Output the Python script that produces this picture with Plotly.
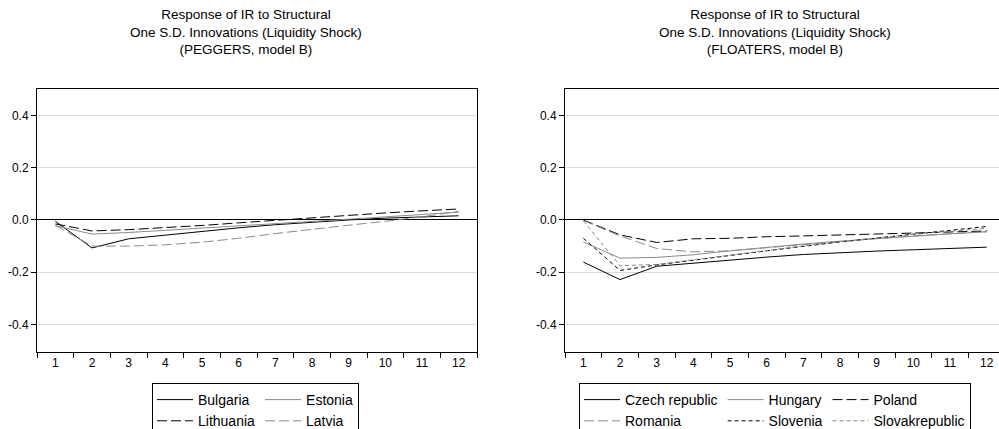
import plotly.graph_objects as go

periods = [str(i) for i in range(1, 13)]

# PEGGERS, model B
bulgaria = [-0.005, -0.107, -0.072, -0.058, -0.043, -0.030, -0.018, -0.008, 0.000, 0.007, 0.012, 0.016]
estonia = [-0.022, -0.054, -0.048, -0.040, -0.031, -0.022, -0.013, -0.005, 0.003, 0.012, 0.021, 0.030]
lithuania = [-0.015, -0.042, -0.037, -0.030, -0.021, -0.011, -0.001, 0.009, 0.018, 0.027, 0.035, 0.042]
latvia = [-0.020, -0.100, -0.100, -0.095, -0.085, -0.070, -0.052, -0.035, -0.020, -0.005, 0.012, 0.033]

# FLOATERS, model B
czech = [-0.161, -0.228, -0.177, -0.165, -0.153, -0.142, -0.132, -0.125, -0.119, -0.114, -0.109, -0.104]
hungary = [-0.084, -0.146, -0.143, -0.133, -0.118, -0.104, -0.092, -0.081, -0.071, -0.062, -0.053, -0.045]
poland = [0.000, -0.057, -0.086, -0.072, -0.070, -0.064, -0.061, -0.058, -0.054, -0.050, -0.046, -0.042]
romania = [-0.002, -0.061, -0.109, -0.122, -0.118, -0.106, -0.094, -0.082, -0.071, -0.061, -0.052, -0.045]
slovenia = [-0.070, -0.193, -0.172, -0.155, -0.136, -0.118, -0.100, -0.084, -0.069, -0.055, -0.040, -0.025]
slovak = [-0.003, -0.175, -0.170, -0.152, -0.134, -0.116, -0.099, -0.083, -0.068, -0.055, -0.043, -0.032]

ytick_vals = [-0.4, -0.2, 0.0, 0.2, 0.4]
ytick_text = ["-0.4", "-0.2", "0.0", "0.2", "0.4"]

BLACK = "#000000"
GRAY = "#8a8a8a"
LONG = "10px,4px"
SHORT = "4px,3px"

W, H = 999, 429

fig = go.Figure()

left_series = [
    ("Bulgaria", bulgaria, BLACK, "solid", "c1"),
    ("Estonia", estonia, GRAY, "solid", "c2"),
    ("Lithuania", lithuania, BLACK, LONG, "c1"),
    ("Latvia", latvia, GRAY, LONG, "c2"),
]
right_series = [
    ("Czech republic", czech, BLACK, "solid", "d1"),
    ("Hungary", hungary, GRAY, "solid", "d2"),
    ("Poland", poland, BLACK, LONG, "d3"),
    ("Romania", romania, GRAY, LONG, "d1"),
    ("Slovenia", slovenia, BLACK, SHORT, "d2"),
    ("Slovakrepublic", slovak, GRAY, SHORT, "d3"),
]

for name, vals, col, dash, grp in left_series:
    fig.add_trace(go.Scatter(x=periods, y=vals, mode="lines", name=name,
                             line=dict(color=col, width=1, dash=dash),
                             legendgroup=grp, legend="legend",
                             xaxis="x", yaxis="y"))
for name, vals, col, dash, grp in right_series:
    fig.add_trace(go.Scatter(x=periods, y=vals, mode="lines", name=name,
                             line=dict(color=col, width=1, dash=dash),
                             legendgroup=grp, legend="legend2",
                             xaxis="x2", yaxis="y2"))

font = "Liberation Sans, Arial, sans-serif"

def xax(domain, rng, anchor):
    return dict(domain=domain, type="category", range=rng, anchor=anchor,
                tickson="boundaries", ticks="outside", ticklen=5, tickwidth=1,
                tickcolor="#000", showline=True, linecolor="#000", linewidth=1,
                mirror=True, showgrid=False, zeroline=False,
                tickfont=dict(size=12, color="#000", family=font))

def yax(domain, anchor, mirror):
    return dict(domain=domain, range=[-0.505, 0.501], anchor=anchor,
                tickvals=ytick_vals, ticktext=ytick_text,
                ticks="outside", ticklen=5, tickwidth=1, tickcolor="#000",
                showline=True, linecolor="#000", linewidth=1, mirror=mirror,
                showgrid=True, gridcolor="#dcdcdc", gridwidth=1,
                zeroline=True, zerolinecolor="#000", zerolinewidth=1,
                tickfont=dict(size=12, color="#000", family=font))

legend_style = dict(orientation="h", traceorder="grouped", xanchor="left",
                    y=1 - 383 / H, yanchor="top", bordercolor="#000", borderwidth=1,
                    bgcolor="white", font=dict(size=14, family=font, color="#000"),
                    tracegroupgap=0, itemwidth=36, itemclick=False, itemdoubleclick=False)

ydom = [1 - 352 / H, 1 - 89 / H]
fig.update_layout(
    width=W, height=H,
    margin=dict(l=0, r=0, t=0, b=0, autoexpand=False),
    paper_bgcolor="white", plot_bgcolor="white",
    font=dict(family=font, color="#000"),
    xaxis=xax([37 / W, 477 / W], [-0.5, 11.5], "y"),
    yaxis=yax(ydom, "x", True),
    xaxis2=xax([565 / W, 1.0], [-0.5, 11.336], "y2"),
    yaxis2=yax(ydom, "x2", False),
    legend=dict(x=152 / W, **legend_style),
    legend2=dict(x=579 / W, **legend_style),
    showlegend=True,
)

titles = [
    ("Response of IR to Structural<br>One S.D. Innovations (Liquidity Shock)<br>(PEGGERS, model B)", 246 / W),
    ("Response of IR to Structural<br>One S.D. Innovations (Liquidity Shock)<br>(FLOATERS, model B)", 775 / W),
]
for text, xp in titles:
    fig.add_annotation(text=text, xref="paper", yref="paper", x=xp, y=1 - 5 / H,
                       xanchor="center", yanchor="top", showarrow=False, align="center",
                       font=dict(size=13.5, family=font, color="#000"))

fig.write_html("out.html", config={"displayModeBar": False},
               post_script="document.body.style.margin='0';document.body.style.overflow='hidden';")
